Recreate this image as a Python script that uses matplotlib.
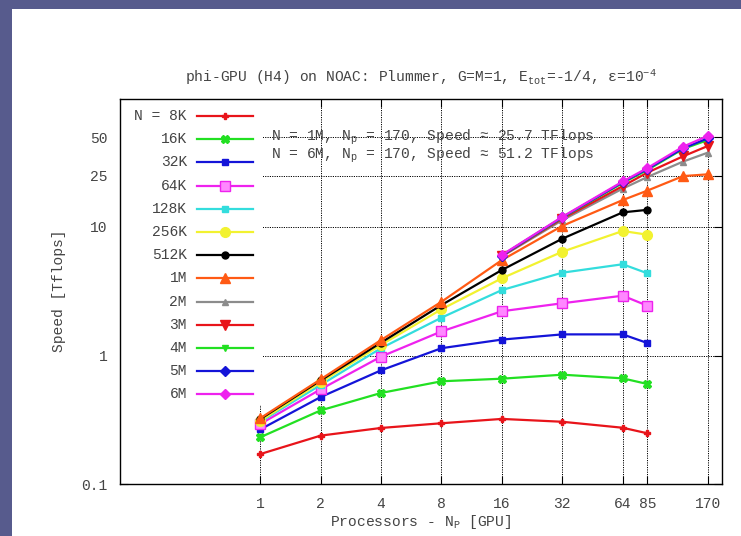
import matplotlib
matplotlib.use('Agg')
import matplotlib.pyplot as plt
from matplotlib.patches import Rectangle
from matplotlib.lines import Line2D
from matplotlib.ticker import FixedLocator, NullLocator

plt.rcParams['font.family'] = ['Liberation Mono', 'DejaVu Sans Mono']
plt.rcParams['mathtext.fontset'] = 'custom'
plt.rcParams['mathtext.rm'] = 'Liberation Mono'
plt.rcParams['mathtext.it'] = 'Liberation Mono'

# number of GPUs used in each run
procs_small = [1, 2, 4, 8, 16, 32, 64, 85]
procs_1m = [1, 2, 4, 8, 16, 32, 64, 85, 128, 170]
procs_big = [16, 32, 64, 85, 128, 170]

# sustained speed, Tflops
speed_8k = [0.171, 0.238, 0.273, 0.297, 0.321, 0.305, 0.274, 0.248]
speed_16k = [0.231, 0.374, 0.511, 0.630, 0.660, 0.709, 0.664, 0.600]
speed_32k = [0.266, 0.475, 0.767, 1.14, 1.33, 1.46, 1.46, 1.25]
speed_64k = [0.293, 0.546, 0.98, 1.54, 2.21, 2.55, 2.92, 2.44]
speed_128k = [0.305, 0.59, 1.14, 1.97, 3.23, 4.41, 5.13, 4.36]
speed_256k = [0.31, 0.62, 1.21, 2.29, 3.99, 6.42, 9.31, 8.71]
speed_512k = [0.32, 0.64, 1.26, 2.47, 4.63, 8.11, 13.0, 13.6]
speed_1m = [0.325, 0.653, 1.32, 2.62, 5.53, 10.2, 16.2, 19.2, 24.9, 25.7]
speed_2m = [5.9, 11.3, 19.9, 24.5, 32.3, 37.9]
speed_3m = [5.95, 11.6, 20.8, 26.5, 35.5, 42.7]
speed_4m = [6.0, 11.8, 22.0, 27.8, 40.5, 47.5]
speed_5m = [6.0, 11.9, 22.3, 28.3, 41.0, 49.0]
speed_6m = [6.06, 12.0, 22.6, 28.8, 42.2, 51.2]

labels = ['N = 8K', '16K', '32K', '64K', '128K', '256K', '512K',
          '1M', '2M', '3M', '4M', '5M', '6M']
xticks = [1, 2, 4, 8, 16, 32, 64, 85, 170]
xticklabels = ['1', '2', '4', '8', '16', '32', '64', '85', '170']
yticks = [0.1, 1, 10, 25, 50]
yticklabels = ['0.1', '1', '10', '25', '50']

series = [
    (procs_small, speed_8k, '#e8141a', 'P', 5, None),
    (procs_small, speed_16k, '#22e022', 'X', 6, None),
    (procs_small, speed_32k, '#1414d8', 's', 5, None),
    (procs_small, speed_64k, '#ee22ee', 's', 7, '#ff88ff'),
    (procs_small, speed_128k, '#33dddd', 's', 5, None),
    (procs_small, speed_256k, '#f2f230', 'o', 7, None),
    (procs_small, speed_512k, '#000000', 'o', 5, None),
    (procs_1m, speed_1m, '#ff5a14', '^', 7, None),
    (procs_big, speed_2m, '#8c8c8c', '^', 4, None),
    (procs_big, speed_3m, '#e8141a', 'v', 7, None),
    (procs_big, speed_4m, '#22e022', 'v', 4, None),
    (procs_big, speed_5m, '#1414d8', 'D', 5, None),
    (procs_big, speed_6m, '#ee22ee', 'D', 5, None),
]

text_col = '#444444'

fig = plt.figure(figsize=(7.41, 5.36), dpi=100)
fig.patch.set_facecolor('white')
# slide frame on the left and top
fig.patches.append(Rectangle((0, 0), 12 / 741, 1, transform=fig.transFigure,
                             facecolor='#575b8d', edgecolor='none', zorder=-5))
fig.patches.append(Rectangle((0, 1 - 9 / 536), 1, 9 / 536, transform=fig.transFigure,
                             facecolor='#575b8d', edgecolor='none', zorder=-5))

ax = fig.add_axes([120 / 741, 1 - 484 / 536, 602 / 741, 385.5 / 536])
ax.set_xscale('log', base=2)
ax.set_yscale('log')
ax.set_xlim(0.2, 200)
ax.set_ylim(0.1, 100)

for x, y, c, m, ms, mfc in series:
    ax.plot(x, y, color=c, lw=1.6, marker=m, ms=ms,
            mfc=mfc if mfc else c, mec=c, zorder=3)

ax.xaxis.set_major_locator(FixedLocator(xticks))
ax.xaxis.set_minor_locator(NullLocator())
ax.set_xticklabels(xticklabels)
ax.yaxis.set_major_locator(FixedLocator(yticks))
ax.yaxis.set_minor_locator(NullLocator())
ax.set_yticklabels(yticklabels)
ax.tick_params(direction='in', length=6, width=0.8, top=True, right=True,
               labelsize=10.5, labelcolor=text_col, pad=9)

ax.grid(True, which='major', color='black', ls=(0, (1.2, 1.2)), lw=0.7)
ax.set_axisbelow(True)
for s in ax.spines.values():
    s.set_linewidth(1.0)

ax.set_title(r'phi-GPU (H4) on NOAC: Plummer, G=M=1, E$_{\mathrm{tot}}$=-1/4, ε=10$^{-4}$',
             fontsize=10.5, color=text_col, pad=12)
ax.set_xlabel(r'Processors - N$_{\mathrm{P}}$ [GPU]', fontsize=10.5,
              color=text_col, labelpad=2)
ax.set_ylabel('Speed [Tflops]', fontsize=10.5, color=text_col, labelpad=11)

ax.text(1.13, 50, r'N = 1M, N$_{\mathrm{p}}$ = 170, Speed ≈ 25.7 TFlops',
        fontsize=10.5, color=text_col, va='center', zorder=4)
ax.text(1.13, 36.3, r'N = 6M, N$_{\mathrm{p}}$ = 170, Speed ≈ 51.2 TFlops',
        fontsize=10.5, color=text_col, va='center', zorder=4)

# key box covers the grid in the upper left corner
ax.add_patch(Rectangle((0, 0.205), 0.2375, 0.795, transform=ax.transAxes,
                       facecolor='white', edgecolor='none', zorder=2))
row0 = (484 - 116) / 385.5
row_step = 23.2 / 385.5
for i, (lab, (x, y, c, m, ms, mfc)) in enumerate(zip(labels, series)):
    yy = row0 - i * row_step
    ax.text(67 / 602, yy, lab, transform=ax.transAxes, ha='right', va='center',
            fontsize=10.5, color=text_col, zorder=4)
    ax.add_line(Line2D([77 / 602, 133 / 602], [yy, yy], transform=ax.transAxes,
                       color=c, lw=1.6, zorder=4))
    ax.add_line(Line2D([105 / 602], [yy], transform=ax.transAxes, color=c,
                       marker=m, ms=ms, mfc=mfc if mfc else c, mec=c, zorder=4))

fig.savefig('out.png', dpi=100)
